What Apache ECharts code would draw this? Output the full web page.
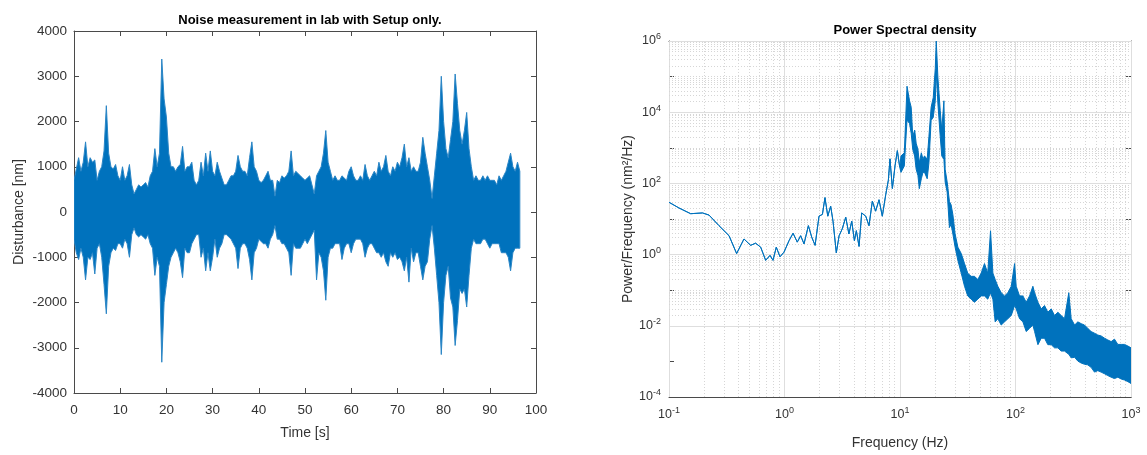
<!DOCTYPE html>
<html><head><meta charset="utf-8">
<script src="https://cdn.jsdelivr.net/npm/echarts@6/dist/echarts.min.js"></script>
<style>html,body{margin:0;padding:0;background:#fff}#c{width:1147px;height:455px}</style>
</head><body><div id="c"></div>
<script>
// ---------- Left panel: time signal envelope (0.5 s bins, nm) ----------
const binStepS = 0.5;
const envTop = [
  700, 950, 1200, 900, 1100, 1550, 1000, 1200, 1100, 1150,
  700, 900, 1000, 1350, 2350, 1300, 1000, 950, 1050, 800,
  700, 1000, 700, 800, 1050, 600, 400, 500, 600, 550,
  600, 650, 550, 800, 900, 1400, 1000, 1300, 3380, 2500,
  2100, 1300, 1000, 1000, 900, 1000, 1050, 1450, 900, 1000,
  1000, 1100, 700, 600, 700, 1100, 800, 1300, 900, 1350,
  900, 800, 1100, 900, 750, 600, 600, 700, 800, 800,
  900, 1250, 1000, 900, 900, 800, 1200, 1550, 1000, 900,
  700, 650, 700, 800, 900, 700, 700, 350, 700, 650,
  800, 750, 800, 900, 1350, 800, 900, 850, 800, 750,
  700, 750, 800, 600, 400, 800, 900, 1000, 1300, 1800,
  1100, 900, 700, 800, 700, 700, 800, 750, 700, 900,
  1000, 800, 700, 700, 800, 700, 1050, 800, 700, 800,
  900, 800, 1100, 900, 1000, 1250, 900, 800, 1000, 900,
  1100, 1000, 1200, 1500, 1000, 1200, 900, 1000, 900, 900,
  1100, 1650, 1300, 1000, 700, 300, 800, 1300, 1800, 3000,
  2000, 1400, 1200, 1600, 2000, 3050, 2400, 1800, 1500, 1800,
  2200, 1400, 1000, 700, 800, 700, 700, 800, 700, 800,
  700, 700, 700, 600, 800, 700, 800, 900, 1100, 1300,
  1000, 900, 1100, 900
];
const envBottom = [
  -600, -900, -1050, -800, -1000, -1500, -1000, -1050, -900, -1370,
  -800, -700, -1000, -1600, -2250, -1200, -900, -800, -850, -700,
  -700, -800, -600, -700, -1000, -500, -350, -500, -550, -500,
  -550, -600, -500, -700, -800, -1400, -1000, -1200, -3320, -2000,
  -1600, -1200, -1000, -900, -800, -900, -1100, -1450, -800, -900,
  -900, -700, -600, -500, -500, -1000, -800, -1300, -900, -1300,
  -1000, -600, -1000, -800, -700, -500, -500, -550, -600, -700,
  -800, -1250, -800, -700, -700, -800, -1050, -1500, -900, -800,
  -600, -650, -700, -700, -800, -600, -500, -300, -600, -600,
  -700, -700, -800, -900, -1400, -700, -800, -800, -800, -700,
  -600, -700, -600, -500, -400, -1500, -900, -1000, -1300, -1950,
  -1000, -800, -800, -700, -700, -700, -1050, -800, -700, -700,
  -900, -700, -600, -600, -600, -700, -1000, -800, -700, -700,
  -800, -900, -900, -1000, -900, -1100, -1200, -900, -1000, -900,
  -1050, -1000, -1100, -1300, -1000, -1550, -800, -1100, -900, -900,
  -1200, -1500, -1200, -1100, -600, -300, -800, -1400, -2000, -3150,
  -2000, -1400, -1200, -1900, -2100, -2950, -2400, -1700, -1800, -1700,
  -2100, -1400, -800, -600, -700, -700, -700, -600, -600, -700,
  -800, -700, -700, -700, -700, -900, -900, -900, -1000, -1300,
  -900, -800, -800, -800
];

// ---------- Right panel: PSD (Hz, nm^2/Hz) ----------
const psdFreq = [
  0.1, 0.122, 0.154, 0.195, 0.222, 0.271, 0.331, 0.385, 0.446, 0.509,
  0.562, 0.622, 0.687, 0.749, 0.795, 0.849, 0.914, 0.99, 1.094, 1.186,
  1.29, 1.38, 1.476, 1.61, 1.72, 1.84, 1.99, 2.13, 2.24, 2.37,
  2.51, 2.63, 2.81, 2.97, 3.16, 3.39, 3.61, 3.82, 4.03, 4.19,
  4.42, 4.66, 5.05, 5.39, 5.76, 6.15, 6.58, 7.03, 7.52, 7.93,
  8.19, 8.59, 9.06, 9.49, 9.94,
  10.2, 10.9, 11.5, 12.1, 12.5, 12.9, 13.4, 13.8, 14.3, 14.7,
  15.3, 15.8, 16.3, 17.2, 17.8, 18.6, 19.4, 20.2, 20.6, 21.3,
  22.3, 23.0, 24.0, 24.6, 25.6, 26.8, 27.7, 28.7, 30.0, 31.7,
  33.9, 36.2, 38.6, 41.3, 44.1, 47.2, 50.4, 53.9, 57.5, 60.8,
  63.7, 66.7, 70.3, 75.2, 80.4, 85.9, 91.9, 98.2, 101.4, 108.4,
  115.9, 123.8, 132.4, 141.4, 146.3, 156.4, 166.9, 178.4, 190.6, 203.7,
  217.8, 232.8, 248.5, 265.7, 289.4, 303.4, 325, 346.7, 370, 395.5,
  422, 451.6, 483, 516, 551, 589.6, 630, 673, 720, 769.1,
  822, 879, 940, 1000
];
const psdUpper = [
  29.5, 20.4, 14.1, 14.8, 12.9, 6.5, 3.4, 1.07, 2.75, 1.82,
  2.09, 1.62, 0.69, 0.95, 0.69, 1.62, 0.87, 1.17, 2.45, 3.98,
  2.24, 3.39, 2.0, 6.5, 3.1, 1.82, 12.0, 13.5, 39.8, 12.0,
  22.9, 8.7, 1.12, 3.39, 5.25, 11.2, 3.8, 8.7, 2.45, 4.7,
  1.7, 14.8, 12.0, 6.5, 31.6, 16.6, 34.7, 12.0, 47.9, 123,
  490, 72, 316, 832, 288,
  589, 724, 53700, 20900, 13800, 2090, 3160, 1350, 891, 380,
  724, 479, 589, 479, 2090, 13800, 25700, 170000, 1000000, 91200,
  11200, 3160, 20900, 251, 110, 30.9, 25.1, 13.2, 3.8, 1.62,
  1.07, 0.56, 0.30, 0.245, 0.245, 0.20, 0.30, 0.56, 0.30, 4.68,
  0.30, 0.20, 0.129, 0.085, 0.069, 0.085, 0.129, 0.56, 0.129, 0.069,
  0.069, 0.046, 0.069, 0.129, 0.085, 0.046, 0.030, 0.037, 0.024, 0.030,
  0.0195, 0.024, 0.0195, 0.0158, 0.085, 0.0158, 0.0105, 0.0129, 0.0115, 0.0105,
  0.0085, 0.0069, 0.0062, 0.0055, 0.0052, 0.0045, 0.0040, 0.0036, 0.0042, 0.0030,
  0.0030, 0.0030, 0.0027, 0.0024
];
const psdLower = [
  29.5, 20.4, 14.1, 14.8, 12.9, 6.5, 3.4, 1.07, 2.75, 1.82,
  2.09, 1.62, 0.69, 0.95, 0.69, 1.62, 0.87, 1.17, 2.45, 3.98,
  2.24, 3.39, 2.0, 6.5, 3.1, 1.82, 12.0, 13.5, 39.8, 12.0,
  22.9, 8.7, 1.12, 3.39, 5.25, 11.2, 3.8, 8.7, 2.45, 4.7,
  1.7, 14.8, 12.0, 6.5, 31.6, 16.6, 34.7, 12.0, 47.9, 123,
  490, 72, 316, 832, 288,
  204, 309, 6000, 4790, 2570, 891, 589, 251, 166, 71,
  135, 204, 204, 135, 380, 5890, 7240, 20900, 138000, 17000,
  2090, 589, 479, 110, 57.5, 5.75, 7.08, 3.8, 1.62, 0.69,
  0.30, 0.129, 0.069, 0.056, 0.046, 0.056, 0.069, 0.069, 0.056, 0.085,
  0.056, 0.0129, 0.0158, 0.0105, 0.0129, 0.0158, 0.0195, 0.037, 0.030, 0.0158,
  0.0129, 0.0069, 0.0085, 0.0105, 0.0069, 0.00295, 0.00447, 0.00447, 0.00295, 0.00295,
  0.0024, 0.0024, 0.00195, 0.00195, 0.00158, 0.00126, 0.0013, 0.00102, 0.0009, 0.00083,
  0.0008, 0.00068, 0.0005, 0.00055, 0.0005, 0.00045, 0.0004, 0.00036, 0.00033, 0.00036,
  0.00032, 0.0003, 0.00027, 0.00024
];

// grid decades for the log plot
const xDecades = [-1, 0, 1, 2, 3];
const yDecades = [-4, -3, -2, -1, 0, 1, 2, 3, 4, 5, 6];

const BLUE = '#0072BD';
const EDGE = '#2b86c6';
const AXC = '#4a4a4a';
const TXT = '#333333';
const FONT = '"Liberation Sans", Arial, Helvetica, sans-serif';

// grid lines for log plot
const gridLines = [];
xDecades.forEach((e, di) => {
  for (let m = 1; m <= 9; m++) {
    if (di === xDecades.length - 1 && m > 1) break;
    const v = m * Math.pow(10, e);
    if (m === 1) gridLines.push({ xAxis: v, lineStyle: { type: 'solid', color: '#dedede', width: 1 } });
    else gridLines.push({ xAxis: v, lineStyle: { type: [1, 2], color: '#d6d6d6', width: 1 } });
  }
});
yDecades.forEach((e, di) => {
  for (let m = 1; m <= 9; m++) {
    if (di === yDecades.length - 1 && m > 1) break;
    const v = m * Math.pow(10, e);
    if (m === 1 && e % 2 === 0) gridLines.push({ yAxis: v, lineStyle: { type: 'solid', color: '#dedede', width: 1 } });
    else gridLines.push({ yAxis: v, lineStyle: { type: [1, 2], color: '#d6d6d6', width: 1 } });
  }
});

const supFmt = (v) => {
  const e = Math.round(Math.log10(v));
  return '{b|10}{s|' + e + '}';
};
const supRich = {
  b: { fontSize: 12.5, color: TXT, fontFamily: FONT },
  s: { fontSize: 9, color: TXT, fontFamily: FONT, padding: [0, 0, 8, 0] }
};

const chart = echarts.init(document.getElementById('c'), null, { renderer: 'canvas' });
const plainAxis = (extra) => Object.assign({
  axisLine: { show: true, onZero: false, lineStyle: { color: AXC, width: 1 } },
  axisTick: { show: true, inside: true, length: 5, lineStyle: { color: AXC } },
  splitLine: { show: false },
  axisLabel: { show: false }
}, extra);

const bandRender = (xs, hi, lo, fill, edge) => (params, api) => {
  const pts = [];
  for (let i = 0; i < xs.length; i++) pts.push(api.coord([xs[i], hi[i]]));
  for (let i = xs.length - 1; i >= 0; i--) pts.push(api.coord([xs[i], lo[i]]));
  return { type: 'polygon', shape: { points: pts },
    style: { fill: fill, stroke: edge, lineWidth: 1, lineJoin: 'round' } };
};
const envTime = envTop.map((v, i) => i * binStepS);

chart.setOption({
  animation: false,
  backgroundColor: '#ffffff',
  title: [
    { text: 'Noise measurement in lab with Setup only.', left: 305, top: 9, textAlign: 'center',
      textStyle: { fontSize: 13, fontWeight: 'bold', color: '#000', fontFamily: FONT } },
    { text: 'Power Spectral density', left: 900, top: 19, textAlign: 'center',
      textStyle: { fontSize: 13, fontWeight: 'bold', color: '#000', fontFamily: FONT } }
  ],
  grid: [
    { left: 74, top: 31, width: 462, height: 362, containLabel: false },
    { left: 669, top: 41, width: 462, height: 364, containLabel: false }
  ],
  xAxis: [
    plainAxis({ gridIndex: 0, type: 'value', min: 0, max: 100, interval: 10, position: 'bottom',
      name: 'Time [s]', nameLocation: 'middle', nameGap: 33,
      nameTextStyle: { fontSize: 14, color: TXT, fontFamily: FONT },
      axisLabel: { show: true, fontSize: 13.5, color: TXT, fontFamily: FONT, margin: 10 } }),
    plainAxis({ gridIndex: 0, type: 'value', min: 0, max: 100, interval: 10, position: 'top' }),
    plainAxis({ gridIndex: 1, type: 'log', logBase: 10, min: 0.1, max: 1000, position: 'bottom',
      name: 'Frequency (Hz)', nameLocation: 'middle', nameGap: 39,
      nameTextStyle: { fontSize: 14, color: TXT, fontFamily: FONT },
      axisLabel: { show: true, formatter: supFmt, rich: supRich, margin: 9 } }),
    plainAxis({ gridIndex: 1, type: 'log', logBase: 10, min: 0.1, max: 1000, position: 'top' })
  ],
  yAxis: [
    plainAxis({ gridIndex: 0, type: 'value', min: -4000, max: 4000, interval: 1000, position: 'left',
      name: 'Disturbance [nm]', nameLocation: 'middle', nameGap: 48, nameRotate: 90,
      nameTextStyle: { fontSize: 14, color: TXT, fontFamily: FONT },
      axisLabel: { show: true, fontSize: 13.5, color: TXT, fontFamily: FONT, margin: 7, formatter: (v) => String(v) } }),
    plainAxis({ gridIndex: 0, type: 'value', min: -4000, max: 4000, interval: 1000, position: 'right' }),
    plainAxis({ gridIndex: 1, type: 'log', logBase: 10, min: 1e-4, max: 1e6, position: 'left',
      name: 'Power/Frequency (nm²/Hz)', nameLocation: 'middle', nameGap: 34, nameRotate: 90,
      nameTextStyle: { fontSize: 14, color: TXT, fontFamily: FONT },
      axisLabel: { show: true, rich: supRich, margin: 8,
        formatter: (v) => { const e = Math.round(Math.log10(v)); return (e % 2 === 0) ? supFmt(v) : ''; } } }),
    plainAxis({ gridIndex: 1, type: 'log', logBase: 10, min: 1e-4, max: 1e6, position: 'right' })
  ],
  series: [
    {
      type: 'custom', xAxisIndex: 0, yAxisIndex: 0, coordinateSystem: 'cartesian2d',
      data: [[0, 0]], silent: true, z: 10, clip: true,
      renderItem: bandRender(envTime, envTop, envBottom, BLUE, EDGE)
    },
    {
      type: 'line', xAxisIndex: 2, yAxisIndex: 2, data: [[1, 1]], symbol: 'none', silent: true,
      lineStyle: { opacity: 0 }, z: 1,
      markLine: { silent: true, symbol: 'none', animation: false, z: 1, label: { show: false },
        emphasis: { disabled: true }, data: gridLines }
    },
    {
      type: 'custom', xAxisIndex: 2, yAxisIndex: 2, coordinateSystem: 'cartesian2d',
      data: [[1, 1]], silent: true, z: 10, clip: true,
      renderItem: bandRender(psdFreq, psdUpper, psdLower, BLUE, BLUE)
    }
  ]
});
</script></body></html>
